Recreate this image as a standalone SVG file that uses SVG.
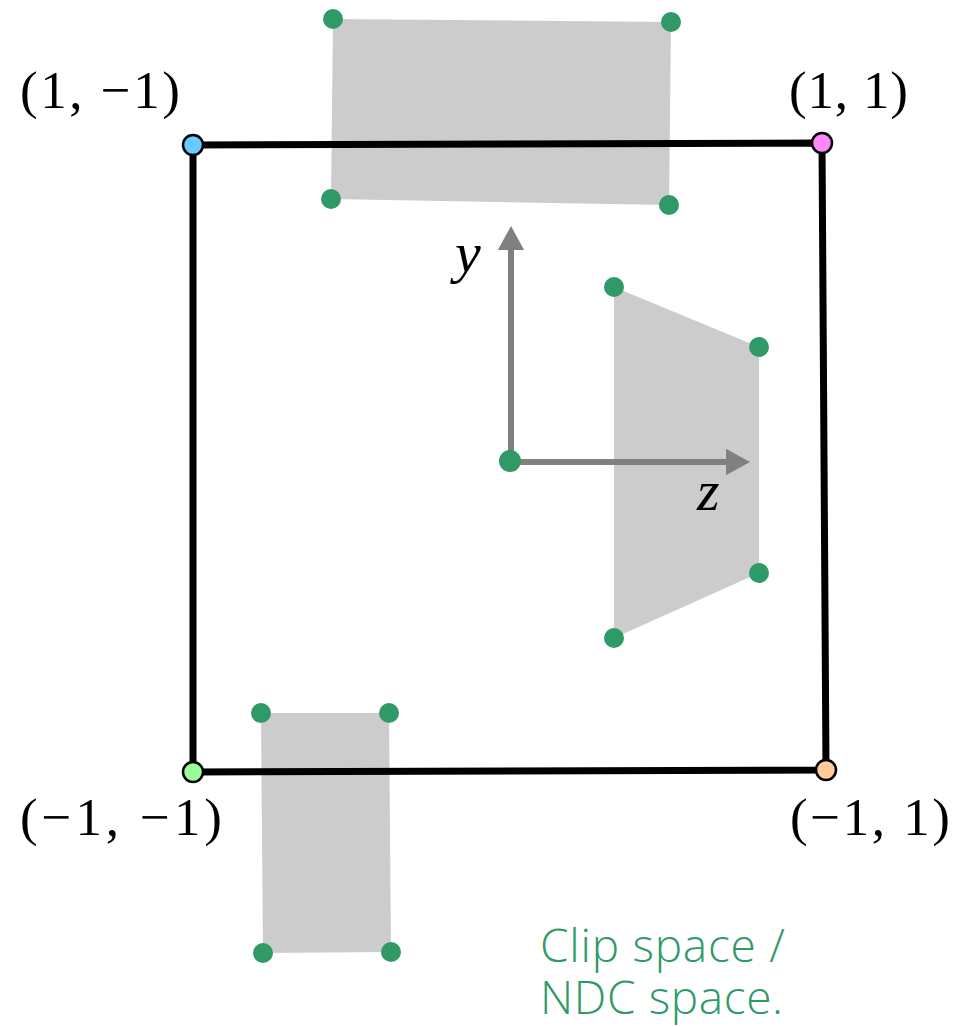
<svg xmlns="http://www.w3.org/2000/svg" width="963" height="1027" viewBox="0 0 963 1027">
<style>
.shape{fill:#cccccc;stroke:none}
.dot{fill:#2f9a66}
.corner{stroke:#000;stroke-width:2.5}
.axis{stroke:#808080;stroke-width:6;fill:none}
.math{font-family:"Liberation Serif",serif;font-size:53px;fill:#000}
.var{font-family:"Liberation Serif",serif;font-style:italic;font-size:58px;fill:#000}
.note{font-family:"Open Sans",sans-serif;font-size:46px;font-weight:300;fill:#2f9a66}
</style>
<defs>
<marker id="ah" markerWidth="4" markerHeight="4.4" refX="0" refY="2.2" orient="auto" markerUnits="strokeWidth">
<path d="M0,0 L4,2.2 L0,4.4 Z" fill="#808080"/>
</marker>
</defs>
<g id="shape-top"><polygon class="shape" points="333,19 671,22 669,205 331,199"/></g>
<g id="shape-right"><polygon class="shape" points="614,287 759,347 759,573 614,638"/></g>
<g id="shape-bottom"><polygon class="shape" points="261,713 389,713 391,952 263,953"/></g>
<g id="connectors">
<polygon points="193,145 822,143 826,770 193,772" fill="none" stroke="#000" stroke-width="7" stroke-linejoin="round"/>
<line class="axis" x1="511" y1="461" x2="511" y2="250" marker-end="url(#ah)"/>
<line class="axis" x1="510" y1="462" x2="726" y2="462" marker-end="url(#ah)"/>
</g>
<g id="dots">
<circle class="dot" cx="333" cy="19" r="10"/>
<circle class="dot" cx="671" cy="22" r="10"/>
<circle class="dot" cx="669" cy="205" r="10"/>
<circle class="dot" cx="331" cy="199" r="10"/>
<circle class="dot" cx="614" cy="287" r="10"/>
<circle class="dot" cx="759" cy="347" r="10"/>
<circle class="dot" cx="759" cy="573" r="10"/>
<circle class="dot" cx="614" cy="638" r="10"/>
<circle class="dot" cx="261" cy="713" r="10"/>
<circle class="dot" cx="389" cy="713" r="10"/>
<circle class="dot" cx="391" cy="952" r="10"/>
<circle class="dot" cx="263" cy="953" r="10"/>
<circle class="dot" cx="510" cy="461" r="11"/>
</g>
<g id="corner-tl"><circle class="corner" cx="193" cy="145" r="10" fill="#66ccff"/><text class="math" x="20" y="108" textLength="160" lengthAdjust="spacing">(1, −1)</text></g>
<g id="corner-tr"><circle class="corner" cx="822" cy="143" r="10" fill="#ff88ff"/><text class="math" x="789" y="108" textLength="119" lengthAdjust="spacing">(1, 1)</text></g>
<g id="corner-bl"><circle class="corner" cx="193" cy="772" r="10" fill="#99ff99"/><text class="math" x="20" y="835" textLength="202" lengthAdjust="spacing">(−1, −1)</text></g>
<g id="corner-br"><circle class="corner" cx="826" cy="770" r="10" fill="#ffcc99"/><text class="math" x="790" y="835" textLength="160" lengthAdjust="spacing">(−1, 1)</text></g>
<g id="labels">
<text class="var" x="455" y="272">y</text>
<text class="var" x="697" y="510">z</text>
<text class="note"><tspan x="540" y="962" textLength="245" lengthAdjust="spacing">Clip space /</tspan><tspan x="540" y="1014" textLength="243" lengthAdjust="spacing">NDC space.</tspan></text>
</g>
</svg>
